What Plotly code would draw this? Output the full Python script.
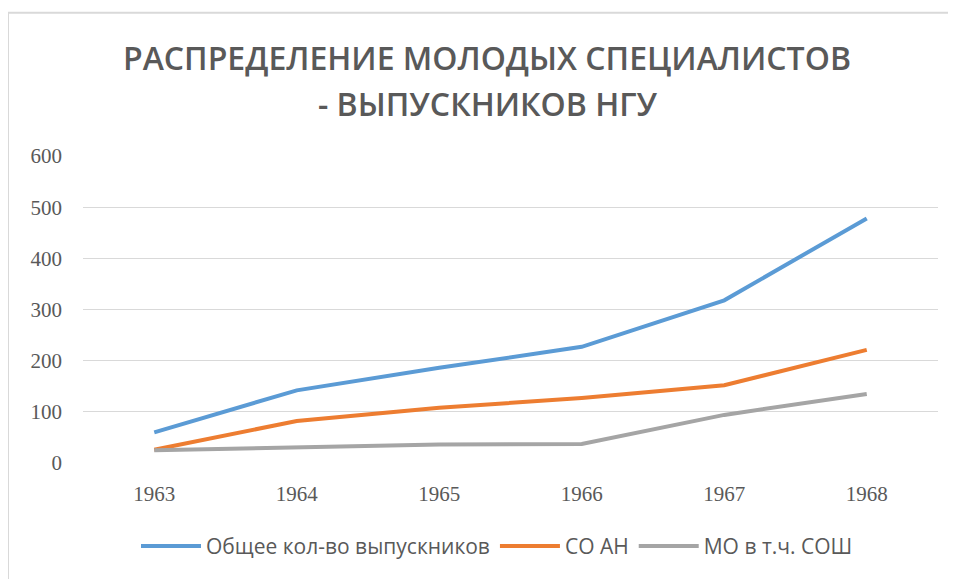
import plotly.graph_objects as go

years = ["1963", "1964", "1965", "1966", "1967", "1968"]
total = [60, 142, 186, 227, 318, 478]
so_an = [26, 82, 108, 127, 152, 221]
mo_sosh = [25, 30, 36, 37, 94, 135]
series_names = ["Общее кол-во выпускников", "СО АН", "МО в т.ч. СОШ"]
title_lines = ["РАСПРЕДЕЛЕНИЕ МОЛОДЫХ СПЕЦИАЛИСТОВ", "- ВЫПУСКНИКОВ НГУ"]
y_ticks = [0, 100, 200, 300, 400, 500, 600]

colors = ["#5B9BD5", "#ED7D31", "#A5A5A5"]

# page offset of the plotly div (body margin)
OFF = 8
W, H = 956 - OFF, 579 - OFF
# plot area in page pixels: x 83..938, y 156..466.7
L = 83 - OFF
R = W - (938 - OFF)
T = 156 - OFF
B = H - (466.7 - OFF)
ph = H - T - B
pw = W - L - R

def py(pix):
    return (H - B - (pix - OFF)) / ph

def px(pix):
    return ((pix - OFF) - L) / pw

fig = go.Figure()
for name, vals, c in zip(series_names, [total, so_an, mo_sosh], colors):
    fig.add_trace(go.Scatter(x=years, y=vals, name=name, mode="lines",
                             line=dict(color=c, width=4)))

gray = "#595959"
fig.update_layout(
    width=W, height=H,
    margin=dict(l=L, r=R, t=T, b=B, pad=0),
    paper_bgcolor="white", plot_bgcolor="white",
    showlegend=True,
    legend=dict(orientation="h", x=px(497), xanchor="center", y=py(551), yanchor="middle",
                font=dict(family="Open Sans", size=21, color=gray),
                itemwidth=60, tracegroupgap=0),
    xaxis=dict(type="category", range=[-0.5, 5.5], showgrid=False, showline=False,
               zeroline=False, ticks="", ticklabelstandoff=16,
               tickfont=dict(family="Liberation Serif", size=21, color=gray)),
    yaxis=dict(range=[0, 600], tickvals=y_ticks, showgrid=True, gridcolor="#d9d9d9",
               gridwidth=1, zeroline=False, showline=False, ticks="",
               ticklabelstandoff=20,
               tickfont=dict(family="Liberation Serif", size=21, color=gray)),
    shapes=[dict(type="rect", xref="paper", yref="paper",
                 x0=px(8), x1=px(980), y0=py(600), y1=py(11),
                 line=dict(color="#d9d9d9", width=2), fillcolor="rgba(0,0,0,0)",
                 layer="below")],
    annotations=[
        dict(text=title_lines[0], xref="paper", yref="paper", x=px(487), y=py(56),
             xanchor="center", yanchor="middle", showarrow=False,
             font=dict(family="Open Sans", size=32, color=gray, weight=600)),
        dict(text=title_lines[1], xref="paper", yref="paper", x=px(487), y=py(103),
             xanchor="center", yanchor="middle", showarrow=False,
             font=dict(family="Open Sans", size=32, color=gray, weight=600)),
    ],
)

fig.write_html("out.html")
